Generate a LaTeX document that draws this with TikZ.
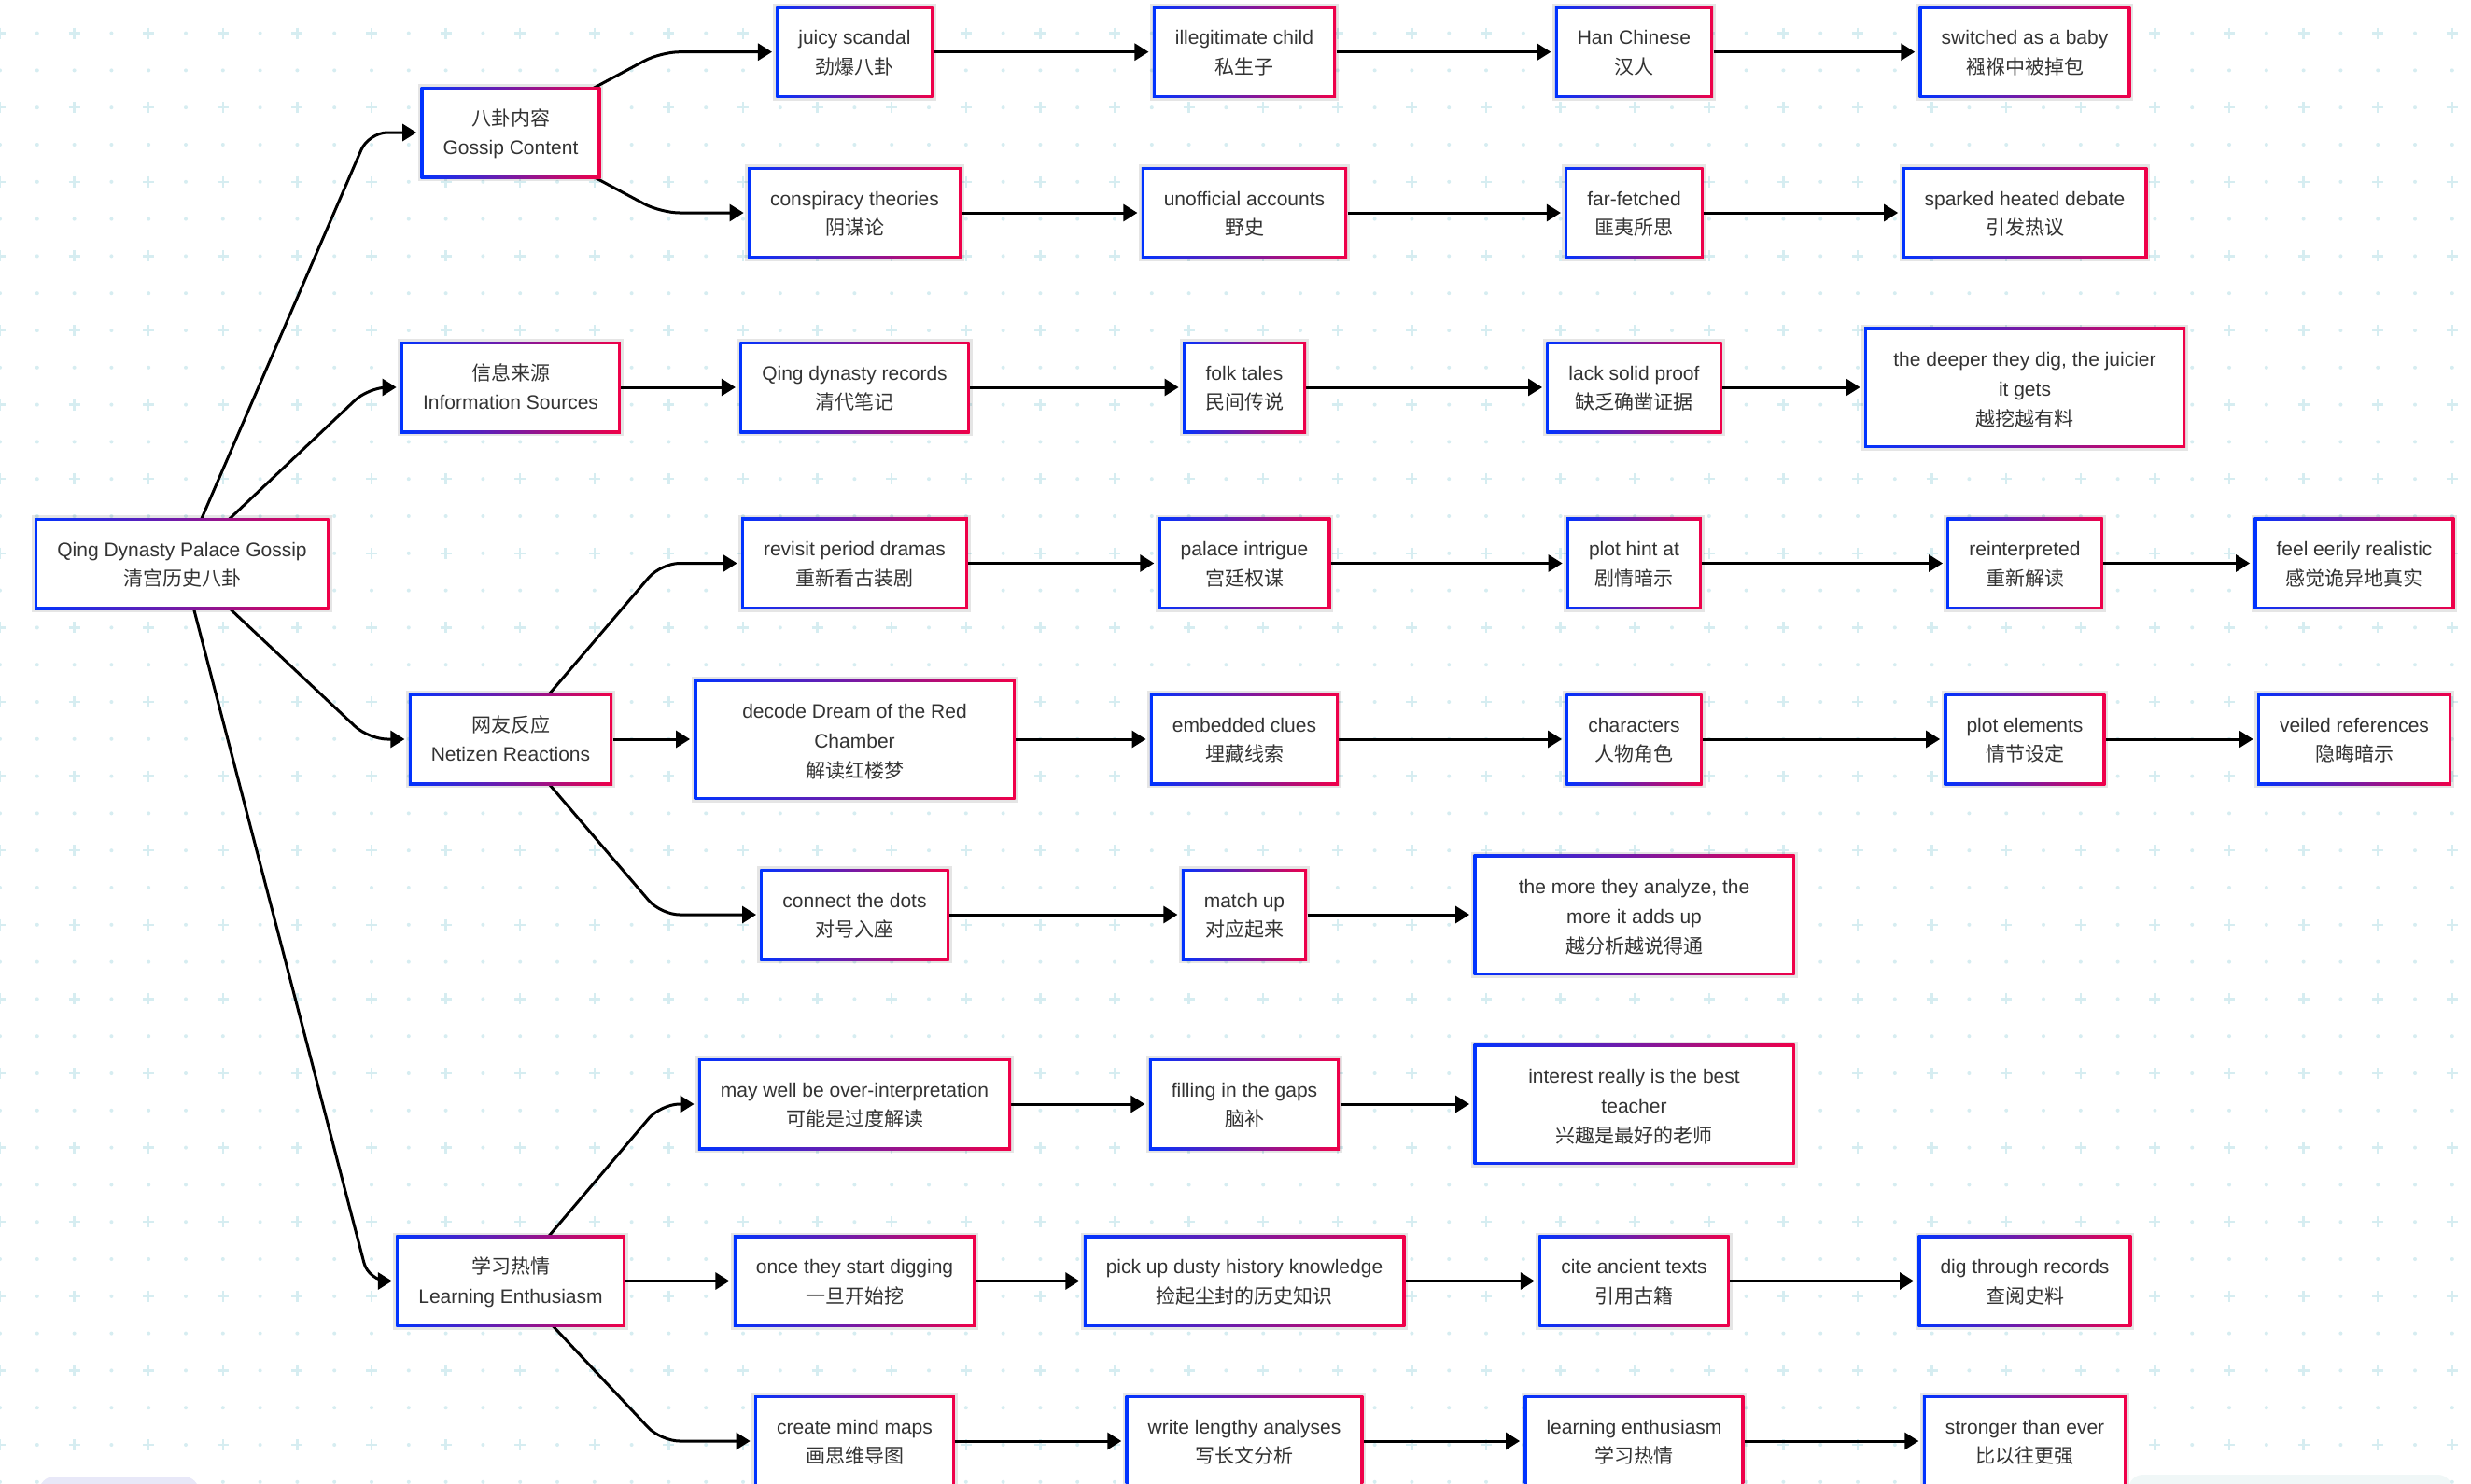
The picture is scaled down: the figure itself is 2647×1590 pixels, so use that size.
\documentclass[tikz,border=0pt]{standalone}
\usepackage{fontspec}
\setmainfont{Liberation Sans}
\newfontfamily\cjk{Noto Sans CJK SC}
\usetikzlibrary{arrows.meta}
\definecolor{gL}{RGB}{0,51,255}
\definecolor{gR}{RGB}{240,0,72}
\definecolor{txt}{HTML}{333333}
\definecolor{gridc}{RGB}{214,237,241}
\definecolor{lav}{RGB}{232,232,248}
\definecolor{pale}{RGB}{240,247,247}
\pgfdeclarelayer{gridlayer}
\pgfdeclarelayer{edgelayer}
\pgfsetlayers{gridlayer,edgelayer,main}
\tikzset{
  mbox/.style={fill=white, inner xsep=12pt, inner ysep=0pt, minimum height=49pt,
    text height=26.7pt, text depth=3pt,
    align=center, text=txt, font=\fontsize{10.5pt}{15.85pt}\selectfont,
    preaction={draw=black, draw opacity=0.10, line width=3pt},
    path picture={
      \shade[left color=gL, right color=gR] (path picture bounding box.south west) rectangle (path picture bounding box.north east);
      \fill[white] ([shift={(1.5pt,1.5pt)}]path picture bounding box.south west) rectangle ([shift={(-1.5pt,-1.5pt)}]path picture bounding box.north east);
    }},
  wbox/.style={mbox, minimum width=172pt, minimum height=64.5pt, text height=44.1pt, text depth=3pt},
  edge/.style={line width=1.5pt, draw=black, -{Triangle[length=7.5pt,width=9pt]}, shorten >=2pt, rounded corners=10pt},
}
\begin{document}
\begin{tikzpicture}[x=0.5pt,y=-0.5pt]
\useasboundingbox (0,0) rectangle (2647,1590);
\begin{pgfonlayer}{gridlayer}
\fill[white] (0,0) rectangle (2647,1590);
\foreach \j in {-1,1,...,39} {\foreach \i in {0,...,66} {\fill[gridc] (\i*39.8,1548-\j*39.8) circle (1pt);}}
\foreach \j in {0,2,...,38} {
  \foreach \i in {1,3,...,65} {\fill[gridc] (\i*39.8,1548-\j*39.8) circle (1pt);}
  \foreach \i in {0,2,...,66} {\draw[gridc,line width=1.25pt] (\i*39.8-6,1548-\j*39.8) -- (\i*39.8+6,1548-\j*39.8) (\i*39.8,1548-\j*39.8-6) -- (\i*39.8,1548-\j*39.8+6);}
}
\fill[lav, rounded corners=8pt] (42,1582) rectangle (213,1620);
\fill[pale, rounded corners=8pt] (2280,1580) rectangle (2627,1620);
\end{pgfonlayer}

\coordinate (rx) at (395,0);
\coordinate (nx) at (708,0);

\node[mbox] (root) at (195,604) {Qing Dynasty Palace Gossip\\{\cjk 清宫历史八卦}};
\node[mbox] (gossip) at (547,142) {{\cjk 八卦内容}\\Gossip Content};
\node[mbox] (info) at (547,415) {{\cjk 信息来源}\\Information Sources};
\node[mbox] (netizen) at (547,792) {{\cjk 网友反应}\\Netizen Reactions};
\node[mbox] (learning) at (547,1372.5) {{\cjk 学习热情}\\Learning Enthusiasm};

% row A
\node[mbox] (juicy) at (915.5,55.7) {juicy scandal\\{\cjk 劲爆八卦}};
\node[mbox] (illeg) at (1333,55.7) {illegitimate child\\{\cjk 私生子}};
\node[mbox] (han) at (1750.5,55.7) {Han Chinese\\{\cjk 汉人}};
\node[mbox] (switched) at (2169,55.7) {switched as a baby\\{\cjk 襁褓中被掉包}};
% row B
\node[mbox] (consp) at (915.5,228) {conspiracy theories\\{\cjk 阴谋论}};
\node[mbox] (unoff) at (1333,228) {unofficial accounts\\{\cjk 野史}};
\node[mbox] (far) at (1750.5,228) {far-fetched\\{\cjk 匪夷所思}};
\node[mbox] (sparked) at (2169,228) {sparked heated debate\\{\cjk 引发热议}};
% row C
\node[mbox] (qing) at (915.5,415) {Qing dynasty records\\{\cjk 清代笔记}};
\node[mbox] (folk) at (1333,415) {folk tales\\{\cjk 民间传说}};
\node[mbox] (lack) at (1750.5,415) {lack solid proof\\{\cjk 缺乏确凿证据}};
\node[wbox] (deeper) at (2169,415) {the deeper they dig, the juicier\\it gets\\{\cjk 越挖越有料}};
% row D
\node[mbox] (revisit) at (915.5,603.5) {revisit period dramas\\{\cjk 重新看古装剧}};
\node[mbox] (palace) at (1333,603.5) {palace intrigue\\{\cjk 宫廷权谋}};
\node[mbox] (plothint) at (1750.5,603.5) {plot hint at\\{\cjk 剧情暗示}};
\node[mbox] (reinterp) at (2169,603.5) {reinterpreted\\{\cjk 重新解读}};
\node[mbox] (eerily) at (2522,603.5) {feel eerily realistic\\{\cjk 感觉诡异地真实}};
% row E
\node[wbox] (decode) at (915.5,792) {decode Dream of the Red\\Chamber\\{\cjk 解读红楼梦}};
\node[mbox] (embedded) at (1333,792) {embedded clues\\{\cjk 埋藏线索}};
\node[mbox] (characters) at (1750.5,792) {characters\\{\cjk 人物角色}};
\node[mbox] (plotelem) at (2169,792) {plot elements\\{\cjk 情节设定}};
\node[mbox] (veiled) at (2522,792) {veiled references\\{\cjk 隐晦暗示}};
% row F
\node[mbox] (connect) at (915.5,980) {connect the dots\\{\cjk 对号入座}};
\node[mbox] (matchup) at (1333,980) {match up\\{\cjk 对应起来}};
\node[wbox] (analyze) at (1750.5,980) {the more they analyze, the\\more it adds up\\{\cjk 越分析越说得通}};
% row G
\node[mbox] (maywell) at (915.5,1183) {may well be over-interpretation\\{\cjk 可能是过度解读}};
\node[mbox] (filling) at (1333,1183) {filling in the gaps\\{\cjk 脑补}};
\node[wbox] (interest) at (1750.5,1183) {interest really is the best\\teacher\\{\cjk 兴趣是最好的老师}};
% row H
\node[mbox] (once) at (915.5,1372.5) {once they start digging\\{\cjk 一旦开始挖}};
\node[mbox] (pickup) at (1333,1372.5) {pick up dusty history knowledge\\{\cjk 捡起尘封的历史知识}};
\node[mbox] (cite) at (1750.5,1372.5) {cite ancient texts\\{\cjk 引用古籍}};
\node[mbox] (digthrough) at (2169,1372.5) {dig through records\\{\cjk 查阅史料}};
% row I
\node[mbox] (mindmaps) at (915.5,1544) {create mind maps\\{\cjk 画思维导图}};
\node[mbox] (write) at (1333,1544) {write lengthy analyses\\{\cjk 写长文分析}};
\node[mbox] (learnent) at (1750.5,1544) {learning enthusiasm\\{\cjk 学习热情}};
\node[mbox] (stronger) at (2169,1544) {stronger than ever\\{\cjk 比以往更强}};

\begin{pgfonlayer}{edgelayer}
\foreach \c in {gossip,info,netizen,learning}
  \draw[edge] (root.center) -- (rx |- \c.west) -- (\c.west);
\foreach \c in {juicy,consp}
  \draw[edge] (gossip.center) -- (nx |- \c.west) -- (\c.west);
\draw[edge] (info.east) -- (qing.west);
\foreach \c in {revisit,connect}
  \draw[edge] (netizen.center) -- (nx |- \c.west) -- (\c.west);
\draw[edge] (netizen.east) -- (decode.west);
\foreach \c in {maywell,mindmaps}
  \draw[edge] (learning.center) -- (nx |- \c.west) -- (\c.west);
\draw[edge] (learning.east) -- (once.west);
\foreach \a/\b in {juicy/illeg,illeg/han,han/switched,
  consp/unoff,unoff/far,far/sparked,
  qing/folk,folk/lack,lack/deeper,
  revisit/palace,palace/plothint,plothint/reinterp,reinterp/eerily,
  decode/embedded,embedded/characters,characters/plotelem,plotelem/veiled,
  connect/matchup,matchup/analyze,
  maywell/filling,filling/interest,
  once/pickup,pickup/cite,cite/digthrough,
  mindmaps/write,write/learnent,learnent/stronger}
  \draw[edge] (\a.east) -- (\b.west);
\end{pgfonlayer}
\end{tikzpicture}
\end{document}
